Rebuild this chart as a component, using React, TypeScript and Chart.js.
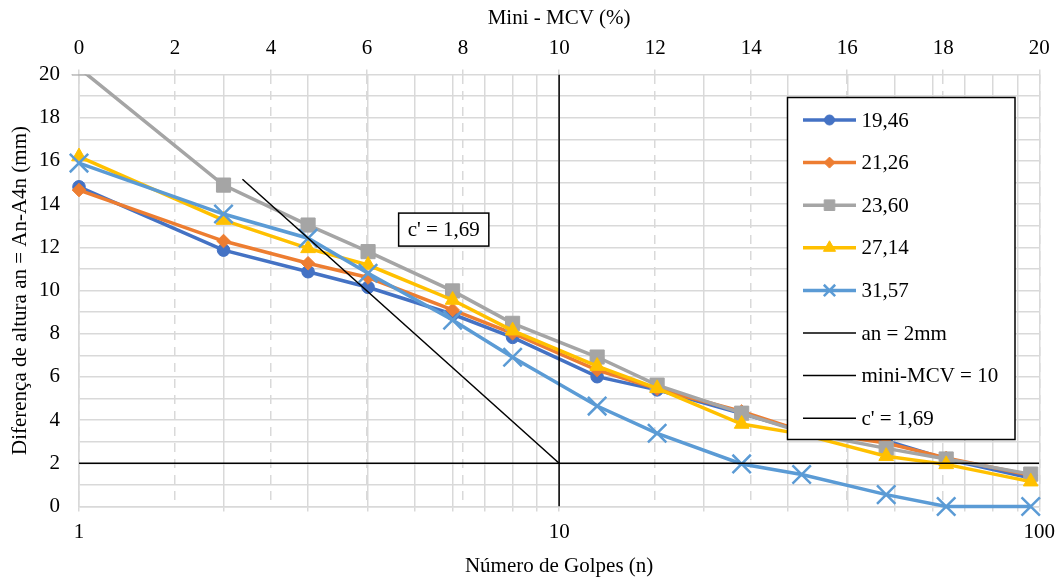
import React, { useEffect, useRef } from 'react';
import { Chart, registerables } from 'chart.js';
import { drawPoint } from 'chart.js/helpers';

Chart.register(...registerables);

// ---------- data ----------
const golpes = [1, 2, 3, 4, 6, 8, 12, 16, 24, 32, 48, 64, 96];
const serie1946 = [14.8, 11.87, 10.87, 10.15, 8.9, 7.83, 6.01, 5.4, 4.3, 3.5, 3.05, 2.2, 1.32];
const serie2126 = [14.65, 12.29, 11.26, 10.6, 9.1, 8.02, 6.32, 5.45, 4.4, 3.5, 2.94, 2.25, 1.45];
const serie2360 = [20.3, 14.88, 13.03, 11.8, 9.98, 8.48, 6.92, 5.62, 4.32, 3.45, 2.69, 2.2, 1.5];
const serie2714 = [16.2, 13.26, 11.95, 11.18, 9.56, 8.14, 6.5, 5.47, 3.82, 3.35, 2.33, 1.95, 1.15];
const serie3157 = [15.9, 13.54, 12.42, 10.8, 8.63, 6.91, 4.65, 3.39, 1.97, 1.48, 0.55, 0, 0];
const seriesNames = ['19,46', '21,26', '23,60', '27,14', '31,57'];

const anLimitN = [1, 100];
const anLimitA = [2, 2];
const mcvLimitN = [10, 10];
const mcvLimitA = [0, 20];
const cLineN = [2.19, 10];
const cLineA = [15.15, 2];
const refNames = ['an = 2mm', 'mini-MCV = 10', "c' = 1,69"];

const logGridTicks = [1, 2, 3, 4, 5, 6, 7, 8, 9, 10, 20, 30, 40, 50, 60, 70, 80, 90, 100];
const logLabelTicks = [1, 10, 100];
const annotationText = "c' = 1,69";
const annotationN = 5.75;
const annotationA = 12.82;

const FONT = "'Liberation Serif', 'Times New Roman', Times, serif";
const GRID = '#d9d9d9';

const pts = (xs: number[], ys: number[]) => xs.map((x, i) => ({ x, y: ys[i] }));

const legendPlugin = {
  id: 'boxLegend',
  afterDraw(chart: any) {
    const ctx = chart.ctx;
    const bx = 787.5, by = 97.5, bw = 227.5, bh = 342;
    ctx.save();
    ctx.fillStyle = '#ffffff';
    ctx.fillRect(bx, by, bw, bh);
    ctx.strokeStyle = '#000000';
    ctx.lineWidth = 1.5;
    ctx.strokeRect(bx, by, bw, bh);
    const rowY0 = by + 22.5;
    const step = 42.6;
    chart.data.datasets.forEach((ds: any, i: number) => {
      const y = rowY0 + i * step;
      ctx.strokeStyle = ds.borderColor;
      ctx.lineWidth = ds.borderWidth;
      ctx.setLineDash([]);
      ctx.beginPath();
      ctx.moveTo(bx + 15.5, y);
      ctx.lineTo(bx + 68.5, y);
      ctx.stroke();
      if (ds.legendRadius) {
        ctx.fillStyle = ds.pointBackgroundColor;
        ctx.strokeStyle = ds.pointBorderColor;
        ctx.lineWidth = ds.pointBorderWidth;
        drawPoint(ctx, { pointStyle: ds.pointStyle, rotation: 0, radius: ds.legendRadius, borderWidth: ds.pointBorderWidth }, bx + 42, y);
      }
      ctx.fillStyle = '#000000';
      ctx.font = `21px ${FONT}`;
      ctx.textAlign = 'left';
      ctx.textBaseline = 'middle';
      ctx.fillText(ds.label, bx + 74, y + 1);
    });
    ctx.restore();
  },
};

const annotationPlugin = {
  id: 'cAnnotation',
  afterDatasetsDraw(chart: any) {
    const ctx = chart.ctx;
    const cx = chart.scales.x.getPixelForValue(annotationN);
    const cy = chart.scales.y.getPixelForValue(annotationA);
    ctx.save();
    ctx.font = `21px ${FONT}`;
    const w = ctx.measureText(annotationText).width + 18;
    const h = 33;
    ctx.fillStyle = '#ffffff';
    ctx.fillRect(cx - w / 2, cy - h / 2, w, h);
    ctx.strokeStyle = '#000000';
    ctx.lineWidth = 1.5;
    ctx.strokeRect(cx - w / 2, cy - h / 2, w, h);
    ctx.fillStyle = '#000000';
    ctx.textAlign = 'center';
    ctx.textBaseline = 'middle';
    ctx.fillText(annotationText, cx, cy + 1);
    ctx.restore();
  },
};

function seriesDataset(label: string, ys: number[], color: string, style: string, radius: number, legendRadius: number, order: number, bw = 1) {
  return {
    label,
    data: pts(golpes, ys),
    borderColor: color,
    backgroundColor: color,
    pointBackgroundColor: color,
    pointBorderColor: color,
    pointBorderWidth: bw,
    pointStyle: style,
    pointRadius: radius,
    borderWidth: 3.5,
    tension: 0,
    order,
    legendRadius,
    clip: { left: 16, right: 16, top: 0, bottom: 16 },
  };
}

function refDataset(label: string, xs: number[], ys: number[]) {
  return {
    label,
    data: pts(xs, ys),
    borderColor: '#000000',
    backgroundColor: '#000000',
    borderWidth: 1.5,
    pointRadius: 0,
    tension: 0,
    order: 0,
    legendRadius: 0,
  };
}

export default function App() {
  const ref = useRef<HTMLCanvasElement | null>(null);
  useEffect(() => {
    if (!ref.current) return;
    const chart = new Chart(ref.current, {
      type: 'line',
      data: {
        datasets: [
          seriesDataset(seriesNames[0], serie1946, '#4472C4', 'circle', 6.3, 5, 5),
          seriesDataset(seriesNames[1], serie2126, '#ED7D31', 'rectRot', 6.8, 5.5, 4),
          seriesDataset(seriesNames[2], serie2360, '#A5A5A5', 'rect', 10, 7.5, 3),
          seriesDataset(seriesNames[3], serie2714, '#FFC000', 'triangle', 8.5, 7, 2),
          seriesDataset(seriesNames[4], serie3157, '#5B9BD5', 'crossRot', 13, 8, 1, 2.5),
          refDataset(refNames[0], anLimitN, anLimitA),
          refDataset(refNames[1], mcvLimitN, mcvLimitA),
          refDataset(refNames[2], cLineN, cLineA),
        ] as any,
      },
      options: {
        animation: false,
        responsive: true,
        maintainAspectRatio: false,
        layout: { padding: { left: 0, right: 23, top: 0, bottom: 0 } },
        plugins: { legend: { display: false }, tooltip: { enabled: false } },
        scales: {
          x: {
            type: 'logarithmic',
            position: 'bottom',
            min: 1,
            max: 100,
            afterBuildTicks: (s: any) => { s.ticks = logGridTicks.map((v) => ({ value: v })); },
            afterFit: (s: any) => { s.height = 74.5; },
            grid: { color: GRID, lineWidth: 1.5, drawTicks: true, tickLength: 5 },
            border: { display: true, color: GRID, width: 1.5 },
            ticks: {
              autoSkip: false,
              maxRotation: 0,
              padding: 8,
              color: '#000',
              font: { family: FONT, size: 21 },
              callback: (v: any) => (logLabelTicks.includes(Number(v)) ? String(v) : ''),
            },
            title: { display: true, text: 'Número de Golpes (n)', color: '#000', font: { family: FONT, size: 21 }, padding: { top: 0, bottom: 2.4 } },
          },
          x2: {
            type: 'linear',
            position: 'top',
            min: 0,
            max: 20,
            afterFit: (s: any) => { s.height = 74.5; },
            grid: { color: GRID, lineWidth: 1.5, drawTicks: true, tickLength: 5 },
            border: { display: false, dash: [9, 7] },
            ticks: { stepSize: 2, padding: 8, color: '#000', font: { family: FONT, size: 21 } },
            title: { display: true, text: 'Mini - MCV (%)', color: '#000', font: { family: FONT, size: 21 }, padding: { top: 6, bottom: 0 } },
          },
          y: {
            type: 'linear',
            position: 'left',
            min: 0,
            max: 20,
            afterFit: (s: any) => { s.width = 79; },
            grid: { color: GRID, lineWidth: 1.5, drawTicks: false },
            border: { display: true, color: GRID, width: 1.5 },
            ticks: {
              stepSize: 1,
              autoSkip: false,
              padding: 19,
              color: '#000',
              font: { family: FONT, size: 21 },
              callback: (v: any) => (Number(v) % 2 === 0 ? String(v) : ''),
            },
            title: { display: true, text: 'Diferença de altura an = An-A4n (mm)', color: '#000', font: { family: FONT, size: 21 }, padding: { top: 7.4, bottom: 0 } },
          },
        },
      } as any,
      plugins: [annotationPlugin, legendPlugin],
    });
    return () => chart.destroy();
  }, []);

  return (
    <div style={{ position: 'fixed', left: 0, top: 0, width: 1063, height: 581, background: '#fff' }}>
      <canvas ref={ref} />
    </div>
  );
}
